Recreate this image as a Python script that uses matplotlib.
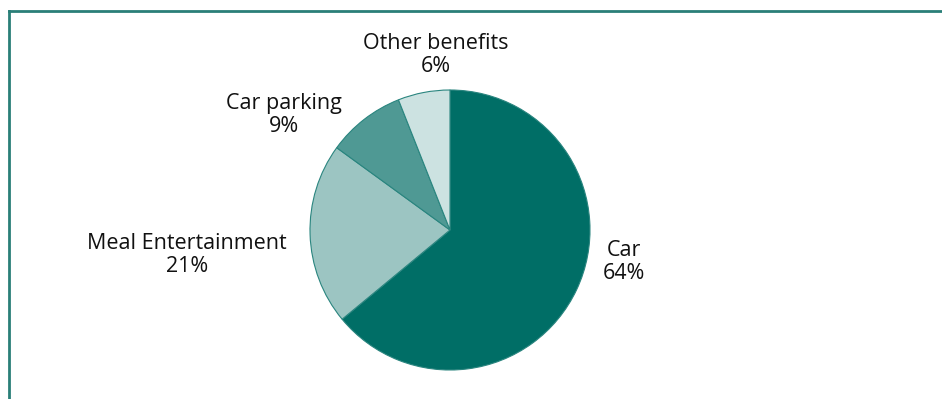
import matplotlib.pyplot as plt
from matplotlib.lines import Line2D

labels = ['Car', 'Meal Entertainment', 'Car parking', 'Other benefits']
shares = [64, 21, 9, 6]
colors = ['#006e66', '#9cc5c2', '#4f9994', '#cce2e1']

W, H = 942, 399
fig = plt.figure(figsize=(W / 100, H / 100), dpi=100)
plt.rcParams['font.family'] = ['Open Sans', 'DejaVu Sans']

# pie area: centre (450, 230) px, radius 140 px
cx, cy, r = 450, 230, 140
ax = fig.add_axes([(cx - r) / W, (H - cy - r) / H, 2 * r / W, 2 * r / H])
ax.pie(shares, colors=colors, startangle=90, counterclock=False,
       wedgeprops=dict(edgecolor='#2a857f', linewidth=0.8))
ax.set_xlim(-1, 1)
ax.set_ylim(-1, 1)
ax.set_aspect('equal')
ax.axis('off')

# label block centres in pixels
label_pos = {
    'Car': (624, 262),
    'Meal Entertainment': (187, 255),
    'Car parking': (284, 115),
    'Other benefits': (436, 55),
}
for lab, val in zip(labels, shares):
    x, y = label_pos[lab]
    fig.text(x / W, 1 - y / H, f'{lab}\n{val}%', ha='center', va='center',
             fontsize=15.5, color='#111111', linespacing=1.12)

# frame lines (left and top)
fig.add_artist(Line2D([9 / W, 9 / W], [0, 1 - 11 / H], color='#2a7f78', lw=2,
                      transform=fig.transFigure))
fig.add_artist(Line2D([9 / W, 1], [1 - 11 / H, 1 - 11 / H], color='#2a7f78', lw=2,
                      transform=fig.transFigure))

fig.savefig('out.png', dpi=100)
